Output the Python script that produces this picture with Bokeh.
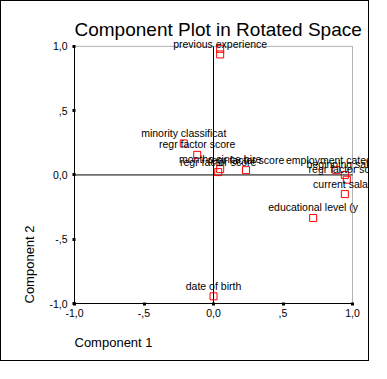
from bokeh.plotting import figure
from bokeh.models import (ColumnDataSource, LabelSet, Label, Range1d, Title,
                          FixedTicker, CustomJSTickFormatter, BoxAnnotation)
from bokeh.core.properties import value
from bokeh.embed import file_html
from bokeh.resources import INLINE

# ---- data ----
variables = ["", "previous experience", "minority classificat", "regr factor score",
             "months since hire", "regr factor score", "regr factor score",
             "employment category", "beginning salary", "regr factor score",
             "current salary", "educational level (y", "date of birth"]
component1 = [0.048, 0.048, -0.214, -0.117, 0.048, 0.034, 0.234,
              0.883, 0.945, 0.959, 0.945, 0.717, 0.0]
component2 = [0.981, 0.937, 0.245, 0.156, 0.045, 0.022, 0.037,
              0.037, 0.0, -0.037, -0.149, -0.335, -0.944]
ticks = [-1.0, -0.5, 0.0, 0.5, 1.0]
tick_labels = ["-1,0", "-,5", "0,0", ",5", "1,0"]
title_text = "Component Plot in Rotated Space"
x_title = "Component 1"
y_title = "Component 2"

FONT = "Liberation Sans"
lo, hi = ticks[0], ticks[-1]

# frame: plotting box (-1..1) sits at x 73..351, y 45..303 of the canvas;
# the frame itself is extended to the top/right canvas edges so texts are not cut
px_x = 278 / (hi - lo)
px_y = 258 / (hi - lo)
p = figure(width=369, height=361, output_backend="svg", toolbar_location=None,
           title=None,
           x_range=Range1d(lo, lo + 296 / px_x), y_range=Range1d(lo, lo + 303 / px_y),
           min_border_left=73, min_border_right=0, min_border_top=0,
           min_border_bottom=58)
p.styles = {"border": "1px solid black"}
p.grid.visible = False
p.outline_line_color = None
p.background_fill_color = "white"
p.border_fill_color = "white"

fmt = CustomJSTickFormatter(args=dict(tvals=ticks, tlabs=tick_labels), code="""
for (let i = 0; i < tvals.length; i++) {
  if (Math.abs(tvals[i] - tick) < 1e-9) return tlabs[i];
}
return "";
""")
for ax in (p.xaxis[0], p.yaxis[0]):
    ax.ticker = FixedTicker(ticks=ticks)
    ax.formatter = fmt
    ax.bounds = (lo, hi)
    ax.minor_tick_line_color = None
    ax.major_tick_in = 1
    ax.major_tick_out = 2
    ax.major_tick_line_width = 3
    ax.major_tick_line_color = "black"
    ax.axis_line_color = "black"
    ax.major_label_text_font = FONT
    ax.major_label_text_font_size = "10.5px"
    ax.major_label_text_color = "black"
p.xaxis.major_label_standoff = 3
p.yaxis.major_label_standoff = 5

# plotting box and zero reference lines
p.add_layout(BoxAnnotation(left=lo, right=hi, bottom=lo, top=hi, fill_color=None,
                           line_color="black", line_width=1))
p.segment(x0=[lo, 0], y0=[0, lo], x1=[hi, 0], y1=[0, hi], line_color="black",
          line_width=1)

src = ColumnDataSource(dict(x=component1, y=component2, name=variables))
p.scatter("x", "y", source=src, marker="square", size=7, fill_color=None,
          line_color="#ff0000", line_width=1)
p.add_layout(LabelSet(x="x", y="y", text="name", source=src, text_align="center",
                      text_baseline="middle", y_offset=10.5, text_font=value(FONT),
                      text_font_size=value("10.5px"), text_color="black"))

p.add_layout(Label(x=lo, y=1.130, text=title_text, text_align="left",
                   text_baseline="alphabetic", text_font=FONT,
                   text_font_size="19px", text_color="black"))

p.add_layout(Title(text=x_title, align="left", text_font=FONT, text_font_size="13px",
                   text_font_style="normal", text_color="black", standoff=26), "below")
p.add_layout(Title(text=y_title, align="left", text_font=FONT, text_font_size="13px",
                   text_font_style="normal", text_color="black", standoff=19), "left")

open("out.html", "w").write(file_html(p, INLINE))
